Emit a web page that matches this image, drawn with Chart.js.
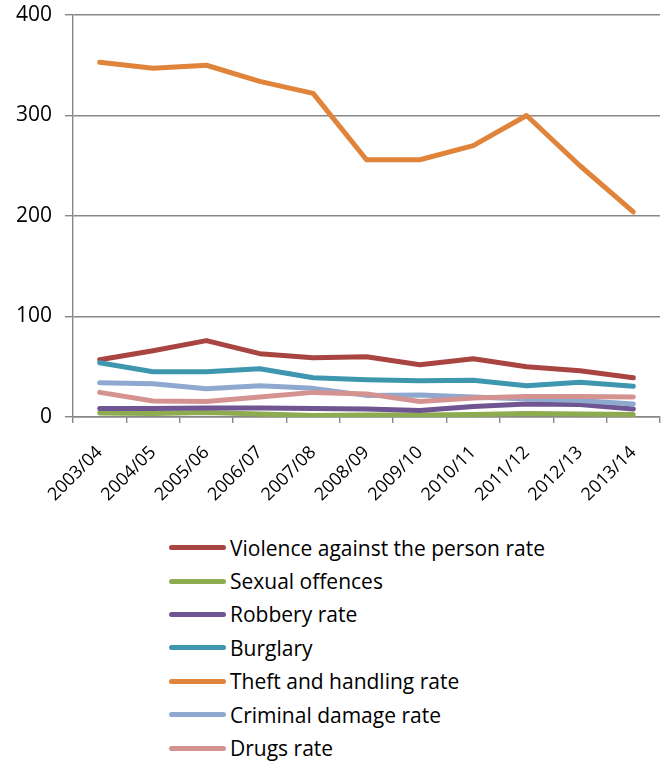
<!DOCTYPE html>
<html>
<head>
<meta charset="utf-8">
<script src="https://cdn.jsdelivr.net/npm/chart.js@4.4.1/dist/chart.umd.min.js"></script>
<style>
  body { margin: 0; background: #fff; font-family: "Open Sans", sans-serif; }
  #wrap { position: absolute; left: 0; top: 0; width: 667px; height: 520px; }
  #legend { position: absolute; left: 169px; top: 531px; }
  .row { display: flex; align-items: center; height: 33.4px; font-size: 21px; color: #000; }
  .swatch { width: 57px; height: 5px; border-radius: 3px; margin-right: 4px; }
</style>
</head>
<body>
<div id="wrap"><canvas id="chart"></canvas></div>
<div id="legend"></div>
<script>
// Financial years on the x axis
const years = ['2003/04', '2004/05', '2005/06', '2006/07', '2007/08', '2008/09',
               '2009/10', '2010/11', '2011/12', '2012/13', '2013/14'];

// Offence rates per year
const violence = [57, 66, 76, 63, 59, 60, 52, 58, 50, 46, 39];
const sexual = [4, 3.5, 4.5, 3, 1.5, 2, 2, 2.5, 3.5, 3, 2.5];
const robbery = [8.5, 8.5, 9, 9, 8.5, 8, 6.5, 10.5, 13, 12.5, 8];
const burglary = [54, 45, 45, 48, 39, 37, 36, 36.5, 31, 34.5, 30.5];
const theft = [353, 347, 350, 334, 322, 256, 256, 270, 300, 250, 204];
const damage = [34, 33, 28, 31, 28.5, 21.5, 22, 20, 18, 16.5, 13];
const drugs = [24.5, 16, 15.5, 20, 24.5, 23, 15.5, 19, 20.5, 20.5, 20];

const seriesNames = ['Violence against the person rate', 'Sexual offences', 'Robbery rate',
                     'Burglary', 'Theft and handling rate', 'Criminal damage rate', 'Drugs rate'];
const seriesData = [violence, sexual, robbery, burglary, theft, damage, drugs];
const seriesColors = ['#a94541', '#8dab4f', '#6f5592', '#3f97af', '#df843a', '#8fa8cf', '#d49391'];

// y axis ticks
const yMin = 0;
const yMax = 400;
const yStep = 100;

const gridColor = '#878787';

const datasets = seriesNames.map((name, i) => ({
  label: name,
  data: seriesData[i],
  borderColor: seriesColors[i],
  backgroundColor: seriesColors[i],
  borderWidth: 5,
  borderCapStyle: 'round',
  borderJoinStyle: 'round',
  pointRadius: 0,
  tension: 0,
  // later series are painted over earlier ones
  order: seriesNames.length - i
}));

const chart = new Chart(document.getElementById('chart'), {
  type: 'line',
  data: { labels: years, datasets: datasets },
  options: {
    responsive: true,
    maintainAspectRatio: false,
    animation: false,
    layout: { padding: { top: 15, right: 7, bottom: 0, left: 0 } },
    plugins: {
      legend: { display: false },
      tooltip: { enabled: false }
    },
    scales: {
      x: {
        offset: true,
        grid: {
          offset: true,
          drawOnChartArea: false,
          drawTicks: true,
          tickLength: 6,
          color: gridColor,
          lineWidth: 1.4
        },
        border: { color: gridColor, width: 1.4 },
        ticks: {
          color: '#000',
          font: { family: 'Open Sans', size: 18 },
          maxRotation: 45,
          minRotation: 45,
          padding: 19
        },
        afterFit: (scale) => {
          scale.height = 103;
          scale.paddingLeft = 0;
          scale.paddingRight = 0;
        }
      },
      y: {
        min: yMin,
        max: yMax,
        grid: {
          color: gridColor,
          lineWidth: 1.4,
          tickLength: 8
        },
        border: { color: gridColor, width: 1.4 },
        ticks: {
          stepSize: yStep,
          color: '#000',
          font: { family: 'Open Sans', size: 21 },
          padding: 13
        },
        afterFit: (scale) => {
          scale.width = 73;
          // let the layout padding alone set the plot's top edge
          scale.paddingTop = 0;
          scale.paddingBottom = 0;
        }
      }
    }
  }
});

// Legend listed underneath the plot, one series per row
const legendEl = document.getElementById('legend');
chart.data.datasets.forEach(ds => {
  const row = document.createElement('div');
  row.className = 'row';
  const sw = document.createElement('span');
  sw.className = 'swatch';
  sw.style.background = ds.borderColor;
  const txt = document.createElement('span');
  txt.textContent = ds.label;
  row.appendChild(sw);
  row.appendChild(txt);
  legendEl.appendChild(row);
});
</script>
</body>
</html>
